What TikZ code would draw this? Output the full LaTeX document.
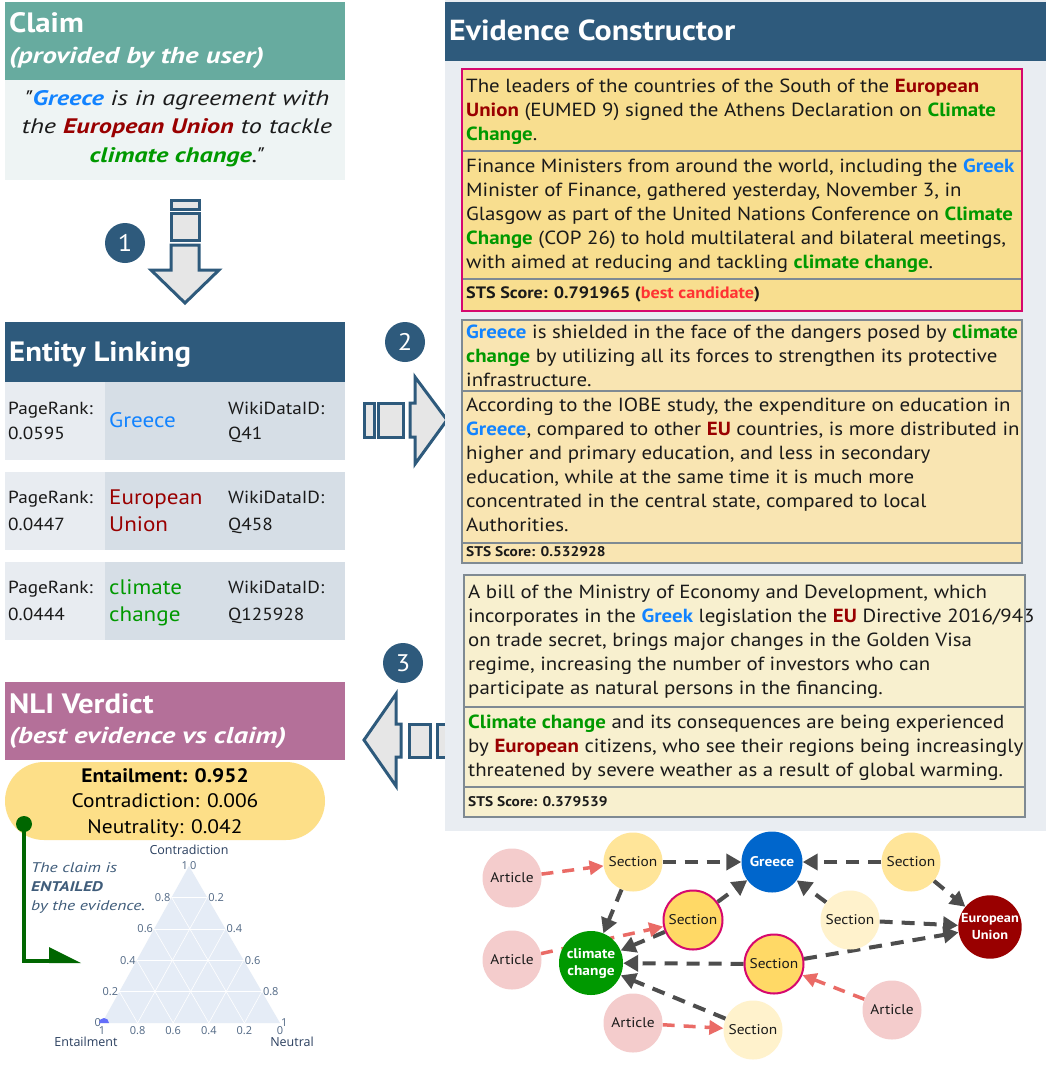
\documentclass[tikz,border=0pt]{standalone}
\usepackage{fontspec}
\setmainfont{PT Sans}[FakeStretch=1.1]
\newfontfamily\itfam{PT Sans}[FakeStretch=1.25]
\newfontfamily\plotfont{Open Sans}
\usetikzlibrary{arrows.meta,calc}
\newcommand\setfs[2]{\fontsize{#1}{#2}\selectfont}
\definecolor{hdrblue}{HTML}{2E5A7C}
\definecolor{claimteal}{HTML}{67AB9F}
\definecolor{claimbg}{HTML}{EEF4F4}
\definecolor{celll}{HTML}{E8ECF1}
\definecolor{cellr}{HTML}{D6DEE6}
\definecolor{panelbg}{HTML}{E9EDF2}
\definecolor{nlimauve}{HTML}{B47099}
\definecolor{verdict}{HTML}{FDDF88}
\definecolor{gblue}{HTML}{1283FF}
\definecolor{eured}{HTML}{990000}
\definecolor{ccgreen}{HTML}{009900}
\definecolor{bestred}{HTML}{FF3333}
\definecolor{boxa}{HTML}{F8DE8F}
\definecolor{boxb}{HTML}{F9E5B2}
\definecolor{boxc}{HTML}{F8F0CF}
\definecolor{bestborder}{HTML}{D6086E}
\definecolor{sepgray}{HTML}{7F8A93}
\definecolor{arrowfill}{HTML}{E6E6E6}
\definecolor{edgegray}{HTML}{4D4D4D}
\definecolor{edgepink}{HTML}{EA6B66}
\definecolor{artpink}{HTML}{F4CCCC}
\definecolor{secgold}{HTML}{FFE599}
\definecolor{sechlfill}{HTML}{FFD966}
\definecolor{secpale}{HTML}{FFF2CC}
\definecolor{greecenode}{HTML}{0066CC}
\definecolor{eunode}{HTML}{990000}
\definecolor{ccnode}{HTML}{009900}
\definecolor{entgreen}{HTML}{006600}
\definecolor{notecol}{HTML}{3F5C7A}
\definecolor{ternfill}{HTML}{E5ECF6}
\definecolor{ternlab}{HTML}{2A3F5F}
\definecolor{terntick}{HTML}{506784}
\definecolor{dotblue}{HTML}{636EFA}
\definecolor{bodytext}{HTML}{1A1A1A}
\newcommand\hlG[1]{\textcolor{gblue}{\textbf{#1}}}
\newcommand\hlE[1]{\textcolor{eured}{\textbf{#1}}}
\newcommand\hlC[1]{\textcolor{ccgreen}{\textbf{#1}}}
\pgfdeclarelayer{bglayer}
\pgfdeclarelayer{edgelayer}
\pgfsetlayers{bglayer,edgelayer,main}
\begin{document}
\begin{tikzpicture}[x=1pt,y=-1pt,
  bl/.style={inner sep=0pt, anchor=base west},
  para/.style={inner sep=0pt, align=left, anchor=north west, text=bodytext, font=\setfs{19}{24}},
  hdrtext/.style={bl, text=white, font=\bfseries\setfs{28}{30}},
  subtext/.style={bl, text=white, font=\itfam\bfseries\itshape\setfs{23}{26}},
  celltext/.style={bl, text=bodytext, font=\setfs{17.5}{20}},
  enttext/.style={bl, font=\setfs{21}{22}},
  stepcirc/.style={circle, fill=hdrblue, minimum size=40, inner sep=0pt, text=white, font=\setfs{24}{24}},
  blockarrow/.style={fill=arrowfill, draw=hdrblue, line width=3pt, line join=miter},
  sepline/.style={draw=sepgray, line width=2pt},
  gnode/.style={circle, minimum size=59, inner sep=0pt, font=\setfs{14}{16}, text=bodytext, align=center},
  art/.style={gnode, fill=artpink},
  sec/.style={gnode, fill=secgold},
  secp/.style={gnode, fill=secpale},
  sechl/.style={gnode, fill=sechlfill, draw=bestborder, line width=2pt},
  ent/.style={gnode, text=white, font=\bfseries\setfs{14}{17}},
  gedge/.style={draw=edgegray, line width=4pt, dash pattern=on 13pt off 9pt, -{Triangle[length=15pt,width=16pt]}},
  pedge/.style={draw=edgepink, line width=3.5pt, dash pattern=on 12pt off 9pt, -{Triangle[length=14pt,width=14pt]}},
  terngrid/.style={draw=white, line width=0.6pt},
  tick/.style={inner sep=1pt, text=terntick, font=\plotfont\setfs{11}{12}},
  axtitle/.style={inner sep=0pt, text=ternlab, font=\plotfont\setfs{12.5}{14}}
]
\useasboundingbox (0,0) rectangle (1046,1066);
\begin{pgfonlayer}{bglayer}
\fill[white] (0,0) rectangle (1046,1066);
\end{pgfonlayer}

% ---------------- Claim ----------------
\fill[claimteal] (5,2) rectangle (345,80);
\fill[claimbg] (5,80) rectangle (345,180);
\node[hdrtext] (claimtitle) at (9,32) {Claim};
\node[subtext] (claimsub) at (9,63) {(provided by the user)};
\node[inner sep=0pt, anchor=north, align=center, text=bodytext, font=\itfam\itshape\setfs{21}{28.5}] (claimtext) at (177,90)
  {"\hlG{Greece} is in agreement with\\ the \hlE{European Union} to tackle\\ \hlC{climate change}."};

% arrow 1
\filldraw[blockarrow] (171,200) rectangle (199,209);
\filldraw[blockarrow] (171,213) rectangle (199,240);
\filldraw[blockarrow] (171,245) -- (199,245) -- (199,270) -- (219,270) -- (185,303) -- (151,270) -- (171,270) -- cycle;
\node[stepcirc] (one) at (125,243) {1};

% ---------------- Entity Linking ----------------
\fill[hdrblue] (5,322) rectangle (345,382);
\node[hdrtext] (eltitle) at (9,361) {Entity Linking};
\foreach \ya/\yb in {382/460, 472/550, 562/640}{
  \fill[celll] (5,\ya) rectangle (105,\yb);
  \fill[cellr] (105,\ya) rectangle (345,\yb);
}
\node[celltext] (pr1) at (8,414) {PageRank:};
\node[celltext] (pv1) at (8,439) {0.0595};
\node[enttext, text=gblue] (en1) at (109,427.5) {Greece};
\node[celltext] (wk1) at (228,414) {WikiDataID:};
\node[celltext] (wv1) at (228,439) {Q41};
\node[celltext] (pr2) at (8,503) {PageRank:};
\node[celltext] (pv2) at (8,530) {0.0447};
\node[enttext, text=eured] (en2a) at (109,504.5) {European};
\node[enttext, text=eured] (en2b) at (109,531.5) {Union};
\node[celltext] (wk2) at (228,503) {WikiDataID:};
\node[celltext] (wv2) at (228,530) {Q458};
\node[celltext] (pr3) at (8,593) {PageRank:};
\node[celltext] (pv3) at (8,620) {0.0444};
\node[enttext, text=ccgreen] (en3a) at (109,594.5) {climate};
\node[enttext, text=ccgreen] (en3b) at (109,621.5) {change};
\node[celltext] (wk3) at (228,593) {WikiDataID:};
\node[celltext] (wv3) at (228,620) {Q125928};

% arrow 2
\filldraw[blockarrow] (364,403) rectangle (374,437);
\filldraw[blockarrow] (378,403) rectangle (403,437);
\filldraw[blockarrow] (410,403) -- (415,403) -- (415,377) -- (447,420) -- (415,464) -- (415,437) -- (410,437) -- cycle;
\node[stepcirc] (two) at (405,342) {2};

% arrow 3
\filldraw[blockarrow] (437,724) rectangle (448,757);
\filldraw[blockarrow] (409,724) rectangle (430,757);
\filldraw[blockarrow] (401,724) -- (396,724) -- (396,694) -- (364,740) -- (396,786) -- (396,757) -- (401,757) -- cycle;
\node[stepcirc] (three) at (403,663) {3};

% ---------------- Evidence Constructor ----------------
\fill[panelbg] (445,0) rectangle (1046,831);
\fill[hdrblue] (445,2) rectangle (1046,61);
\node[hdrtext, font=\bfseries\setfs{29}{30}] (ectitle) at (449,40) {Evidence Constructor};

% box 1
\fill[boxa] (462,69) rectangle (1022,311);
\draw[sepline] (463,151) -- (1021,151);
\draw[sepline] (463,279) -- (1021,279);
\draw[draw=bestborder, line width=2pt] (462,69) rectangle (1022,311);
\node[para] (b1a) at (466,79) {The leaders of the countries of the South of the \hlE{European}\\
\hlE{Union} (EUMED 9) signed the Athens Declaration on \hlC{Climate}\\
\hlC{Change}.};
\node[para] (b1b) at (466,159) {Finance Ministers from around the world, including the \hlG{Greek}\\
Minister of Finance, gathered yesterday, November 3, in\\
Glasgow as part of the United Nations Conference on \hlC{Climate}\\
\hlC{Change} (COP 26) to hold multilateral and bilateral meetings,\\
with aimed at reducing and tackling \hlC{climate change}.};
\node[bl, text=bodytext, font=\bfseries\setfs{16.5}{20}] (b1s) at (466,298) {STS Score: 0.791965 (\textcolor{bestred}{best candidate})};

% box 2
\fill[boxb] (462,320) rectangle (1022,563);
\draw[sepline] (463,391) -- (1021,391);
\draw[sepline] (463,543) -- (1021,543);
\node[para] (b2a) at (466,325) {\hlG{Greece} is shielded in the face of the dangers posed by \hlC{climate}\\
\hlC{change} by utilizing all its forces to strengthen its protective\\
infrastructure.};
\node[para] (b2b) at (466,398) {According to the IOBE study, the expenditure on education in\\
\hlG{Greece}, compared to other \hlE{EU} countries, is more distributed in\\
higher and primary education, and less in secondary\\
education, while at the same time it is much more\\
concentrated in the central state, compared to local\\
Authorities.};
\node[bl, text=bodytext, font=\bfseries\setfs{14}{16}] (b2s) at (466,556) {STS Score: 0.532928};
\draw[sepline] (462,320) rectangle (1022,563);

% box 3
\fill[boxc] (464,575) rectangle (1025,817);
\draw[sepline] (465,707) -- (1024,707);
\draw[sepline] (465,787) -- (1024,787);
\node[para] (b3a) at (468,585) {A bill of the Ministry of Economy and Development, which\\
incorporates in the \hlG{Greek} legislation the \hlE{EU} Directive 2016/943\\
on trade secret, brings major changes in the Golden Visa\\
regime, increasing the number of investors who can\\
participate as natural persons in the financing.};
\node[para] (b3b) at (468,715) {\hlC{Climate change} and its consequences are being experienced\\
by \hlE{European} citizens, who see their regions being increasingly\\
threatened by severe weather as a result of global warming.};
\node[bl, text=bodytext, font=\bfseries\setfs{14}{16}] (b3s) at (468,806) {STS Score: 0.379539};
\draw[sepline] (464,575) rectangle (1025,817);

% ---------------- Graph ----------------
\node[art] (a1) at (512,878) {Article};
\node[sec] (s1) at (633,862) {Section};
\node[ent, fill=greecenode, minimum size=61] (gr) at (772,862) {Greece};
\node[sec] (s2) at (911,862) {Section};
\node[ent, fill=eunode, minimum size=63, font=\bfseries\setfs{13}{17}] (eu) at (990,927) {European\\Union};
\node[sechl] (s3) at (693,920) {Section};
\node[secp] (s4) at (850,920) {Section};
\node[art] (a2) at (512,960) {Article};
\node[ent, fill=ccnode, minimum size=64] (cc) at (591,963) {climate\\change};
\node[sechl] (s5) at (774,964) {Section};
\node[art] (a3) at (633,1023) {Article};
\node[secp] (s6) at (753,1030) {Section};
\node[art] (a4) at (892,1010) {Article};
\begin{pgfonlayer}{edgelayer}
\draw[gedge] (s1) -- (gr);
\draw[gedge] (s2) -- (gr);
\draw[gedge] (s2) -- (eu);
\draw[gedge] (s1) -- (cc);
\draw[gedge] (s3) -- (gr);
\draw[gedge] (s3) -- (cc);
\draw[gedge] (s4) -- (gr);
\draw[gedge] (s4) -- (eu);
\draw[gedge] (s5) -- (cc);
\draw[gedge] (s5) -- (eu);
\draw[gedge] (s6) -- (cc);
\draw[pedge] (a1) -- (s1);
\draw[pedge] (a2) -- (s3);
\draw[pedge] (a3) -- (s6);
\draw[pedge] (a4) -- (s5);
\end{pgfonlayer}

% ---------------- NLI Verdict ----------------
\fill[nlimauve] (5,682) rectangle (345,760);
\node[hdrtext] (nlititle) at (9,713) {NLI Verdict};
\node[subtext] (nlisub) at (9,743) {(best evidence vs claim)};
\fill[verdict, rounded corners=39pt] (5,762) rectangle (325,840);
\node[inner sep=0pt, anchor=north, align=center, text=black, font=\setfs{19.5}{25.5}] (scores) at (165,768)
  {\textbf{Entailment: 0.952}\\ Contradiction: 0.006\\ Neutrality: 0.042};

% ternary plot
\coordinate (tA) at (189,866);
\coordinate (tB) at (102,1023);
\coordinate (tC) at (280,1023);
\fill[ternfill] (tA) -- (tB) -- (tC) -- cycle;
\foreach \t in {0.2,0.4,0.6,0.8}{
  \draw[terngrid] ($(tA)!\t!(tB)$) -- ($(tA)!\t!(tC)$);
  \draw[terngrid] ($(tB)!\t!(tA)$) -- ($(tB)!\t!(tC)$);
  \draw[terngrid] ($(tC)!\t!(tA)$) -- ($(tC)!\t!(tB)$);
}
\foreach \k/\v in {0/1,1/0.8,2/0.6,3/0.4,4/0.2,5/0}{
  \node[tick, anchor=east] (tl\k) at ($(tA)!{\k/5}!(tB)$) {\v};
  \node[tick, anchor=north] (tb\k) at ($(tB)!{\k/5}!(tC)+(0,2)$) {\v};
}
\foreach \k/\v in {0/0,1/0.2,2/0.4,3/0.6,4/0.8,5/1}{
  \node[tick, anchor=west] (tr\k) at ($(tA)!{\k/5}!(tC)$) {\v};
}
\node[axtitle] (axc) at (189,850) {Contradiction};
\node[axtitle] (axe) at (86,1042) {Entailment};
\node[axtitle] (axn) at (292,1042) {Neutral};
\fill[dotblue] (99,1023) arc[start angle=180, end angle=0, radius=5pt] -- cycle;

% entailed connector
\node[circle, fill=entgreen, minimum size=16, inner sep=0pt] (entdot) at (24,824) {};
\coordinate (entcorner) at (24,961);
\coordinate (entend) at (60,961);
\draw[entgreen, line width=3.5pt] (entdot.center) -- (entcorner) -- (entend);
\fill[entgreen] (49,947) -- (49,963) -- (81,963) -- cycle;
\node[inner sep=0pt, anchor=north west, align=left, text=notecol, font=\itfam\itshape\setfs{14}{19}] (note) at (31,862)
  {The claim is\\ \textbf{ENTAILED}\\ by the evidence.};
\end{tikzpicture}
\end{document}
